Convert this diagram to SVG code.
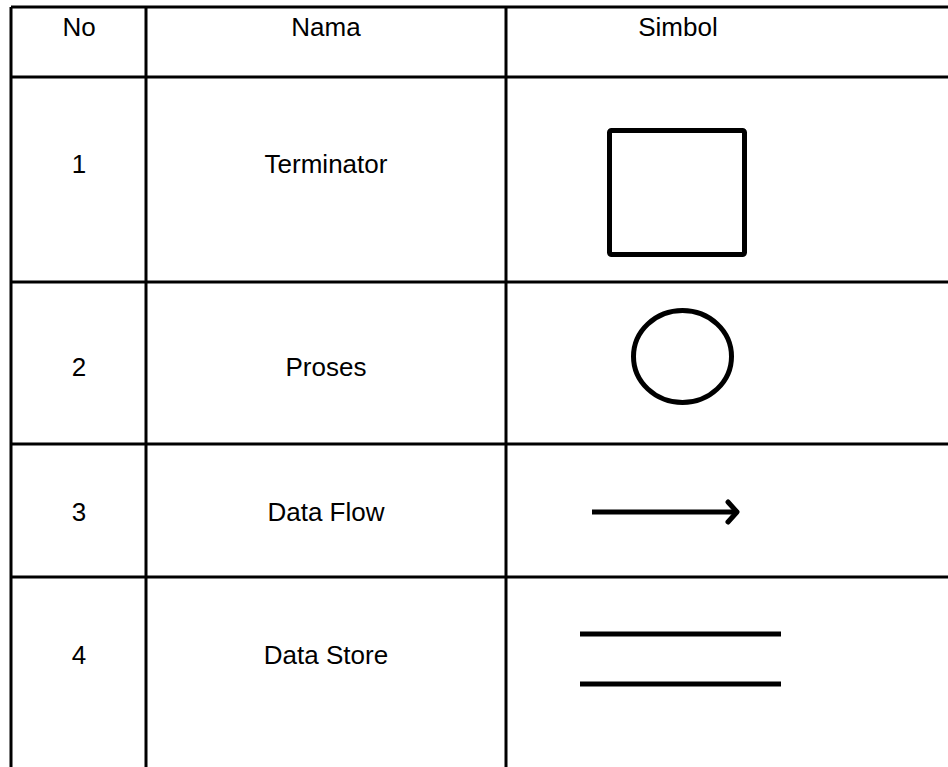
<svg xmlns="http://www.w3.org/2000/svg" width="948" height="767" viewBox="0 0 948 767">
  <style>
    .grid { stroke: #000; stroke-width: 3; fill: none; }
    .txt { font-family: "Liberation Sans", Arial, sans-serif; font-size: 26px; fill: #000; text-anchor: middle; }
    .sym { stroke: #000; stroke-width: 5; fill: none; }
    .shadow { stroke: #999; stroke-width: 4; fill: none; filter: url(#soft); }
  </style>
  <defs>
    <filter id="soft" x="-5%" y="-100%" width="110%" height="300%">
      <feGaussianBlur stdDeviation="1.5"/>
    </filter>
  </defs>
  <rect width="948" height="767" fill="#fff"/>

  <!-- table grid -->
  <g id="table">
    <line class="grid" x1="11" y1="7" x2="948" y2="7"/>
    <line class="grid" x1="11" y1="77" x2="948" y2="77"/>
    <line class="grid" x1="11" y1="282" x2="948" y2="282"/>
    <line class="grid" x1="11" y1="444" x2="948" y2="444"/>
    <line class="grid" x1="11" y1="577" x2="948" y2="577"/>
    <line class="grid" x1="11" y1="7" x2="11" y2="767"/>
    <line class="grid" x1="146" y1="7" x2="146" y2="767"/>
    <line class="grid" x1="506" y1="7" x2="506" y2="767"/>
  </g>

  <!-- header -->
  <g id="header">
    <text class="txt" x="79" y="36">No</text>
    <text class="txt" x="326" y="36">Nama</text>
    <text class="txt" x="678" y="36">Simbol</text>
  </g>

  <g id="row1">
    <text class="txt" x="79" y="173">1</text>
    <text class="txt" x="326" y="173">Terminator</text>
    <rect class="sym" x="609.5" y="130.5" width="135" height="124" rx="2"/>
  </g>

  <g id="row2">
    <text class="txt" x="79" y="376">2</text>
    <text class="txt" x="326" y="376">Proses</text>
    <ellipse class="sym" cx="682.5" cy="356.5" rx="49" ry="46"/>
  </g>

  <g id="row3">
    <text class="txt" x="79" y="521">3</text>
    <text class="txt" x="326" y="521">Data Flow</text>
    <line class="shadow" x1="594" y1="516" x2="732" y2="516"/>
    <line class="sym" x1="592" y1="512" x2="735" y2="512" stroke-width="6"/>
    <polyline class="sym" points="728,502 737,512 728,522" stroke-width="6" stroke-linecap="round" stroke-linejoin="round"/>
  </g>

  <g id="row4">
    <text class="txt" x="79" y="664">4</text>
    <text class="txt" x="326" y="664">Data Store</text>
    <line class="shadow" x1="580" y1="638" x2="781" y2="638"/>
    <line class="shadow" x1="580" y1="688" x2="781" y2="688"/>
    <line class="sym" x1="580" y1="634" x2="781" y2="634"/>
    <line class="sym" x1="580" y1="684" x2="781" y2="684"/>
  </g>
</svg>
